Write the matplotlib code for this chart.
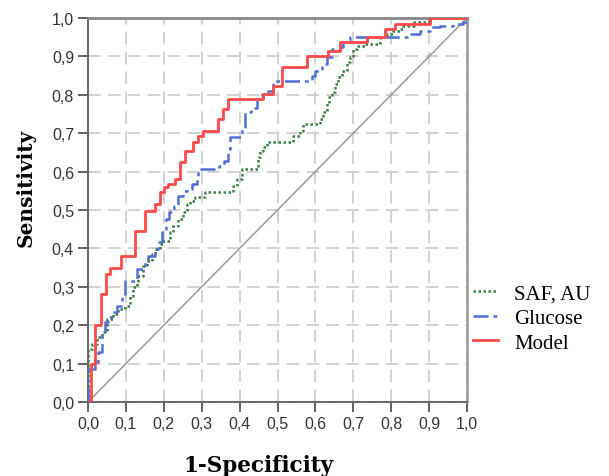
import matplotlib
matplotlib.use("Agg")
import matplotlib.pyplot as plt
from matplotlib.ticker import MultipleLocator, FuncFormatter

# ROC step data: at each fpr value the curve jumps to the given tpr
model_fpr = [0, 0.008, 0.018, 0.034, 0.047, 0.058, 0.087, 0.124, 0.15, 0.177, 0.19, 0.2, 0.21,
             0.23, 0.243, 0.256, 0.277, 0.29, 0.303, 0.343, 0.356, 0.369, 0.462, 0.488, 0.512,
             0.578, 0.633, 0.665, 0.736, 0.784, 0.81, 0.902, 1.0]
model_tpr = [0, 0.10, 0.20, 0.28, 0.333, 0.35, 0.38, 0.445, 0.497, 0.515, 0.547, 0.56, 0.568,
             0.58, 0.625, 0.654, 0.677, 0.693, 0.706, 0.737, 0.763, 0.789, 0.802, 0.823, 0.872,
             0.901, 0.914, 0.9375, 0.95, 0.971, 0.984, 1.0, 1.0]

glucose_fpr = [0, 0.0, 0.018, 0.026, 0.037, 0.045, 0.053, 0.063, 0.077, 0.09, 0.098, 0.129, 0.15,
               0.158, 0.177, 0.185, 0.195, 0.205, 0.215, 0.226, 0.237, 0.25, 0.261, 0.275, 0.288,
               0.29, 0.345, 0.36, 0.369, 0.375, 0.406, 0.414, 0.43, 0.446, 0.459, 0.475, 0.488,
               0.591, 0.599, 0.617, 0.63, 0.644, 0.665, 0.673, 0.69, 0.85, 0.876, 0.902, 0.929,
               0.963, 0.99, 1.0]
glucose_tpr = [0, 0.086, 0.104, 0.13, 0.182, 0.208, 0.221, 0.234, 0.25, 0.281, 0.315, 0.346, 0.365,
               0.38, 0.398, 0.417, 0.445, 0.477, 0.495, 0.51, 0.536, 0.55, 0.555, 0.567, 0.58,
               0.607, 0.615, 0.628, 0.659, 0.69, 0.711, 0.755, 0.765, 0.789, 0.802, 0.81, 0.836,
               0.849, 0.862, 0.88, 0.898, 0.919, 0.924, 0.9375, 0.95, 0.958, 0.966, 0.977, 0.979,
               0.984, 0.99, 1.0]

saf_fpr = [0, 0.0, 0.01, 0.023, 0.037, 0.05, 0.066, 0.079, 0.098, 0.111, 0.119, 0.129, 0.132,
           0.145, 0.156, 0.169, 0.177, 0.19, 0.198, 0.216, 0.224, 0.237, 0.25, 0.26, 0.27, 0.282,
           0.309, 0.383, 0.393, 0.406, 0.449, 0.454, 0.463, 0.472, 0.541, 0.559, 0.567, 0.612,
           0.62, 0.63, 0.637, 0.644, 0.652, 0.66, 0.67, 0.683, 0.691, 0.699, 0.71, 0.731, 0.77,
           0.79, 0.805, 0.823, 0.831, 0.86, 0.9, 1.0]
saf_tpr = [0, 0.138, 0.15, 0.169, 0.182, 0.216, 0.229, 0.242, 0.25, 0.276, 0.3, 0.315, 0.328,
           0.354, 0.367, 0.385, 0.398, 0.411, 0.419, 0.443, 0.458, 0.477, 0.495, 0.516, 0.523, 0.534,
           0.547, 0.563, 0.58, 0.607, 0.638, 0.654, 0.664, 0.677, 0.693, 0.706, 0.724, 0.737,
           0.755, 0.778, 0.795, 0.807, 0.828, 0.846, 0.862, 0.885, 0.898, 0.919, 0.927, 0.932, 0.95,
           0.958, 0.966, 0.971, 0.979, 0.99, 1.0, 1.0]

series_labels = ["SAF, AU", "Glucose", "Model"]

fig = plt.figure(figsize=(6.09, 4.77), dpi=100)
ax = fig.add_axes([88 / 609, (477 - 403) / 477, (467 - 88) / 609, (403 - 19) / 477])

ax.set_xlim(0, 1)
ax.set_ylim(0, 1)

# grid
ax.grid(True, color="#cfcfcf", linestyle=(0, (7, 4)), linewidth=1.3)
ax.set_axisbelow(True)

# reference diagonal
ax.plot([0, 1], [0, 1], color="#9a9a9a", linewidth=1.1, zorder=2)

l_saf, = ax.plot(saf_fpr, saf_tpr, drawstyle="steps-post", color="#3a8045",
                 linestyle=(0, (1, 1)), linewidth=1.8, zorder=3, label=series_labels[0])
l_glu, = ax.plot(glucose_fpr, glucose_tpr, drawstyle="steps-post", color="#4f6fd6",
                 linestyle=(0, (6, 2, 1.5, 2)), linewidth=1.8, zorder=4, label=series_labels[1])
l_mod, = ax.plot(model_fpr, model_tpr, drawstyle="steps-post", color="#ff4a4a",
                 linewidth=2.0, zorder=5, label=series_labels[2])

ax.xaxis.set_major_locator(MultipleLocator(0.1))
ax.yaxis.set_major_locator(MultipleLocator(0.1))
fmt = FuncFormatter(lambda v, p: f"{v:.1f}".replace(".", ","))
ax.xaxis.set_major_formatter(fmt)
ax.yaxis.set_major_formatter(fmt)
ax.tick_params(axis="both", direction="out", length=7, width=1.3, color="#555555",
               labelsize=11.5, labelcolor="#333333", pad=3)
for lab in ax.get_xticklabels() + ax.get_yticklabels():
    lab.set_fontfamily("Liberation Sans")

for s in ["left", "bottom"]:
    ax.spines[s].set_color("#666666")
    ax.spines[s].set_linewidth(1.4)
ax.spines["top"].set_color("#888888")
ax.spines["top"].set_linewidth(2.0)
ax.spines["right"].set_color("#999999")
ax.spines["right"].set_linewidth(1.8)

fig.text(26 / 609, 1 - 188 / 477, "Sensitivity", rotation=90, ha="center", va="center",
         fontsize=14.5, fontweight="bold", family="DejaVu Serif")
fig.text(259 / 609, 1 - 466 / 477, "1-Specificity", ha="center", va="center",
         fontsize=15.5, fontweight="bold", family="DejaVu Serif")

leg = fig.legend(handles=[l_saf, l_glu, l_mod], labels=series_labels,
                 loc="upper left", bbox_to_anchor=(458 / 609, 1 - 270 / 477),
                 frameon=False, prop={"family": "Liberation Serif", "size": 15},
                 handlelength=1.2, handletextpad=0.8, labelspacing=0.25, borderpad=0.2)

fig.savefig("out.png", dpi=100)
